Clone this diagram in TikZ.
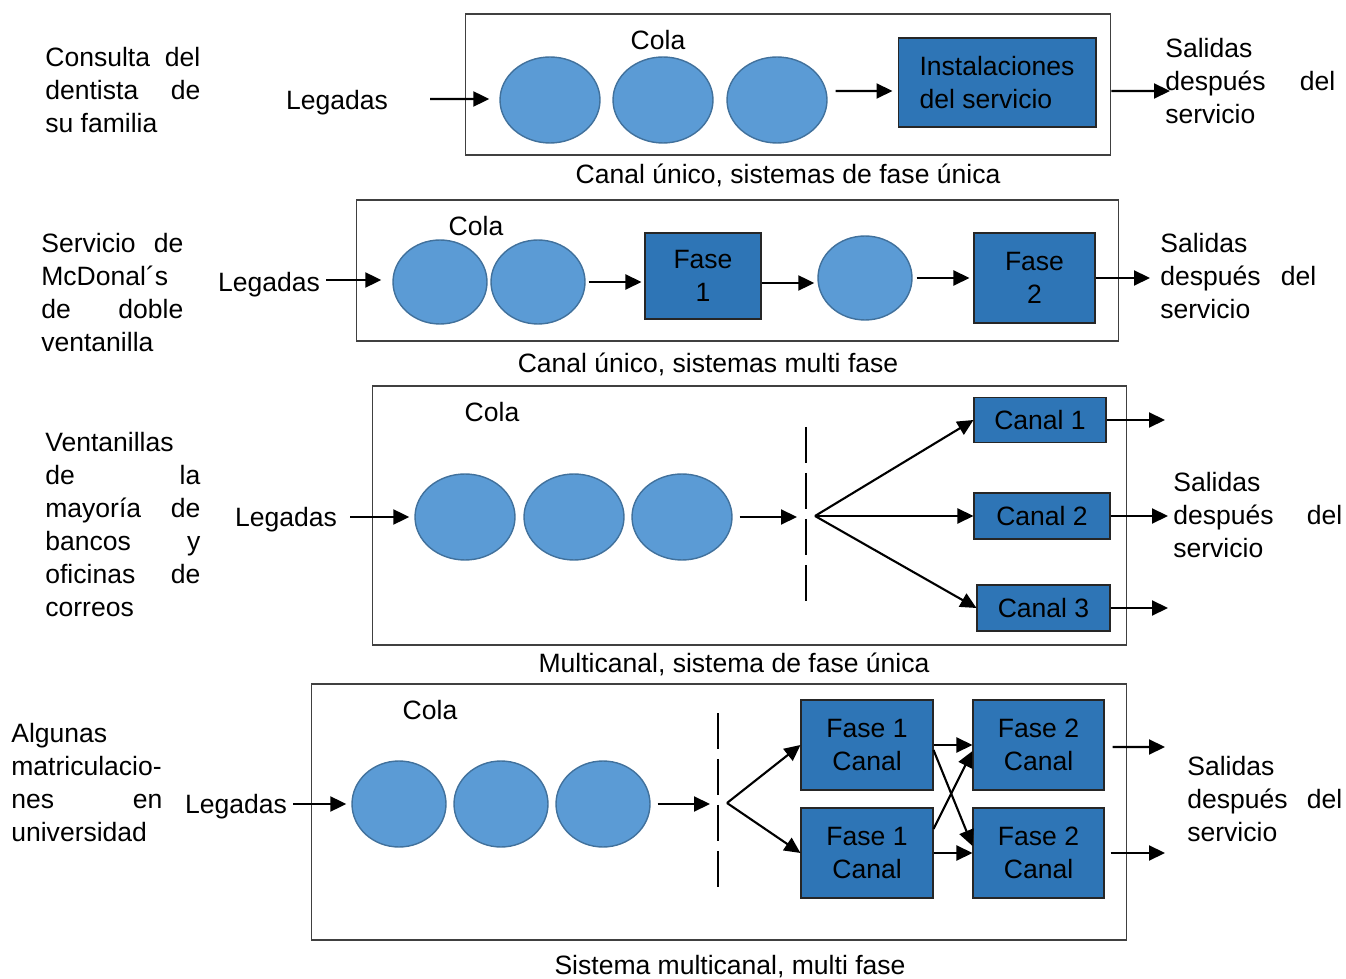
\documentclass[tikz,border=0pt]{standalone}
\usepackage{fontspec}
\setmainfont{Liberation Sans}
\usetikzlibrary{shapes.geometric,arrows.meta}

\definecolor{clientefill}{HTML}{5B9BD5}
\definecolor{clienteborde}{HTML}{41719C}
\definecolor{servfill}{HTML}{2E75B6}

\begin{document}
\begin{tikzpicture}[x=0.02cm, y=-0.02cm,
  every node/.style={font=\fontsize{15.1}{18.8}\selectfont},
  cliente/.style={ellipse, draw=clienteborde, fill=clientefill, line width=0.8pt,
    minimum width=2cm, minimum height=1.72cm, inner sep=0pt},
  servidor/.style={draw=black!85, fill=servfill, line width=0.6pt, align=center, inner sep=0pt},
  marco/.style={draw=black!75, line width=0.6pt, inner sep=0pt},
  flecha/.style={-{Triangle[length=0.32cm,width=0.3cm]}, line width=1.2pt},
  corte/.style={line width=1.2pt, dash pattern=on 0.72cm off 0.2cm},
  ejemplo/.style={anchor=north west, align=justify, inner sep=0pt}]
  \useasboundingbox (0,0) rectangle (1346,979);

  % canal unico, fase unica
  \node[marco, minimum width=12.92cm, minimum height=2.82cm] (m1) at (788,84.5) {};
  \node (cola1) at (658,40) {Cola};
  \node[cliente] (e11) at (550,100) {};
  \node[cliente] (e12) at (663,100) {};
  \node[cliente] (e13) at (777,100) {};
  \node[servidor, align=left, minimum width=3.96cm, minimum height=1.78cm] (s1) at (997,82.5)
    {Instalaciones\\del servicio};
  \node (leg1) at (337,102.5) {Legadas};
  \node[ejemplo, text width=3.1cm] (ej1) at (45,47) {Consulta del\linebreak dentista de\linebreak su familia};
  \node[ejemplo, text width=3.4cm] (sal1) at (1165,38) {Salidas\linebreak después del\linebreak servicio};
  \node (cap1) at (788,175) {Canal único, sistemas de fase única};
  \coordinate (o1) at (1170,91);
  \draw[flecha, shorten <=0.72cm, shorten >=0.2cm] ([yshift=0.07cm]leg1.east) -- ([yshift=0.02cm]e11.west);
  \draw[flecha] ([xshift=0.16cm,yshift=0.18cm]e13.east) -- ([xshift=-0.1cm,yshift=-0.17cm]s1.west);
  \draw[flecha] ([yshift=-0.13cm]m1.east) -- (o1);

  % canal unico, multi fase
  \node[marco, minimum width=15.26cm, minimum height=2.82cm] (m2) at (737.5,270.5) {};
  \node (cola2) at (476,226) {Cola};
  \node[cliente, minimum width=1.88cm, minimum height=1.68cm] (e21) at (440,282) {};
  \node[cliente, minimum width=1.88cm, minimum height=1.68cm] (e22) at (538,282) {};
  \node[servidor, minimum width=2.32cm, minimum height=1.72cm] (f21) at (703,276) {Fase\\1};
  \node[cliente, minimum width=1.88cm, minimum height=1.68cm] (e23) at (865,278) {};
  \node[servidor, minimum width=2.42cm, minimum height=1.8cm] (f22) at (1034.5,278) {Fase\\2};
  \node (leg2) at (269,285) {Legadas};
  \node[ejemplo, text width=2.84cm] (ej2) at (41,233)
    {Servicio de\linebreak McDonal´s\linebreak de doble\linebreak ventanilla};
  \node[ejemplo, text width=3.12cm] (sal2) at (1160,233) {Salidas\linebreak después del\linebreak servicio};
  \node (cap2) at (708,364) {Canal único, sistemas multi fase};
  \coordinate (o2) at (1150,278);
  \draw[flecha, shorten >=0.22cm] ([yshift=0.1cm]leg2.east) -- ([yshift=0.1cm]leg2.east -| e21.west);
  \draw[flecha, shorten <=0.06cm, shorten >=0.06cm] (e22.east) -- (e22.east -| f21.west);
  \draw[flecha, shorten >=0.06cm] ([yshift=-0.14cm]f21.east) -- ([yshift=-0.14cm]f21.east -| e23.west);
  \draw[flecha, shorten <=0.08cm, shorten >=0.08cm] (e23.east) -- (e23.east -| f22.west);
  \draw[flecha] (f22.east) -- (o2);

  % multicanal, fase unica
  \node[marco, minimum width=15.1cm, minimum height=5.18cm] (m3) at (749.5,515.5) {};
  \node (cola3) at (492,412) {Cola};
  \node[cliente] (e31) at (465,517) {};
  \node[cliente] (e32) at (574,517) {};
  \node[cliente] (e33) at (682,517) {};
  \node[servidor, minimum width=2.64cm, minimum height=0.9cm] (c1) at (1040,420) {Canal 1};
  \node[servidor, minimum width=2.72cm, minimum height=0.92cm] (c2) at (1042,516) {Canal 2};
  \node[servidor, minimum width=2.66cm, minimum height=0.92cm] (c3) at (1043.5,608) {Canal 3};
  \node (leg3) at (286,520) {Legadas};
  \node[ejemplo, text width=3.1cm] (ej3) at (45,432)
    {Ventanillas\linebreak de la\linebreak mayoría de\linebreak bancos y\linebreak oficinas de\linebreak correos};
  \node[ejemplo, text width=3.38cm] (sal3) at (1173,472) {Salidas\linebreak después del\linebreak servicio};
  \node (cap3) at (734,664) {Multicanal, sistema de fase única};
  \coordinate (p3) at (797,517);
  \coordinate (d3a) at (806,427);
  \coordinate (d3b) at (806,601);
  \coordinate (r3) at (815,516);
  \coordinate (o31) at (1165,420);
  \coordinate (o32) at (1168,516);
  \coordinate (o33) at (1168,608);
  \draw[flecha, shorten <=0.14cm, shorten >=0.1cm] ([yshift=0.06cm]leg3.east) -- ([yshift=0.06cm]leg3.east -| e31.west);
  \draw[flecha, shorten <=0.14cm] (e33.east) -- (p3);
  \draw[corte] (d3a) -- (d3b);
  \draw[flecha] (r3) -- (c1.west);
  \draw[flecha] (r3) -- (c2.west);
  \draw[flecha] (r3) -- (c3.west);
  \draw[flecha] (c1.east) -- (o31);
  \draw[flecha] (c2.east) -- (o32);
  \draw[flecha] (c3.east) -- (o33);

  % multicanal, multi fase
  \node[marco, minimum width=16.32cm, minimum height=5.12cm] (m4) at (719,812) {};
  \node (cola4) at (430,710) {Cola};
  \node[cliente, minimum width=1.88cm] (e41) at (399,804) {};
  \node[cliente, minimum width=1.88cm] (e42) at (501,804) {};
  \node[cliente, minimum width=1.88cm] (e43) at (603,804) {};
  \node[servidor, minimum width=2.64cm, minimum height=1.8cm] (ga) at (867,745) {Fase 1\\Canal};
  \node[servidor, minimum width=2.64cm, minimum height=1.8cm] (gb) at (867,853) {Fase 1\\Canal};
  \node[servidor, minimum width=2.62cm, minimum height=1.8cm] (ha) at (1038.5,745) {Fase 2\\Canal};
  \node[servidor, minimum width=2.62cm, minimum height=1.8cm] (hb) at (1038.5,853) {Fase 2\\Canal};
  \node (leg4) at (236,807) {Legadas};
  \node[ejemplo, text width=3.02cm] (ej4) at (11,723)
    {Algunas\linebreak matriculacio-\linebreak nes en\linebreak universidad};
  \node[ejemplo, text width=3.1cm] (sal4) at (1187,756) {Salidas\linebreak después del\linebreak servicio};
  \node (cap4) at (730,967) {Sistema multicanal, multi fase};
  \coordinate (p4) at (710,804);
  \coordinate (d4a) at (718,713);
  \coordinate (d4b) at (718,888);
  \coordinate (r4) at (727,803);
  \coordinate (o41) at (1165,747);
  \coordinate (o42) at (1165,853);
  \draw[flecha, shorten >=0.1cm] ([yshift=0.06cm]leg4.east) -- ([yshift=0.06cm]leg4.east -| e41.west);
  \draw[flecha, shorten <=0.14cm] (e43.east) -- (p4);
  \draw[corte] (d4a) -- (d4b);
  \draw[flecha] (r4) -- (ga.west);
  \draw[flecha] (r4) -- (gb.west);
  \draw[flecha] (ga.east) -- (ha.west);
  \draw[flecha] (gb.east) -- (hb.west);
  \draw[flecha] ([yshift=-0.1cm]ga.east) -- ([yshift=0.14cm]hb.west);
  \draw[flecha] ([yshift=0.48cm]gb.east) -- ([yshift=-0.12cm]ha.west);
  \draw[flecha] ([xshift=0.16cm,yshift=-0.04cm]ha.east) -- (o41);
  \draw[flecha] ([xshift=0.12cm]hb.east) -- (o42);
\end{tikzpicture}
\end{document}
